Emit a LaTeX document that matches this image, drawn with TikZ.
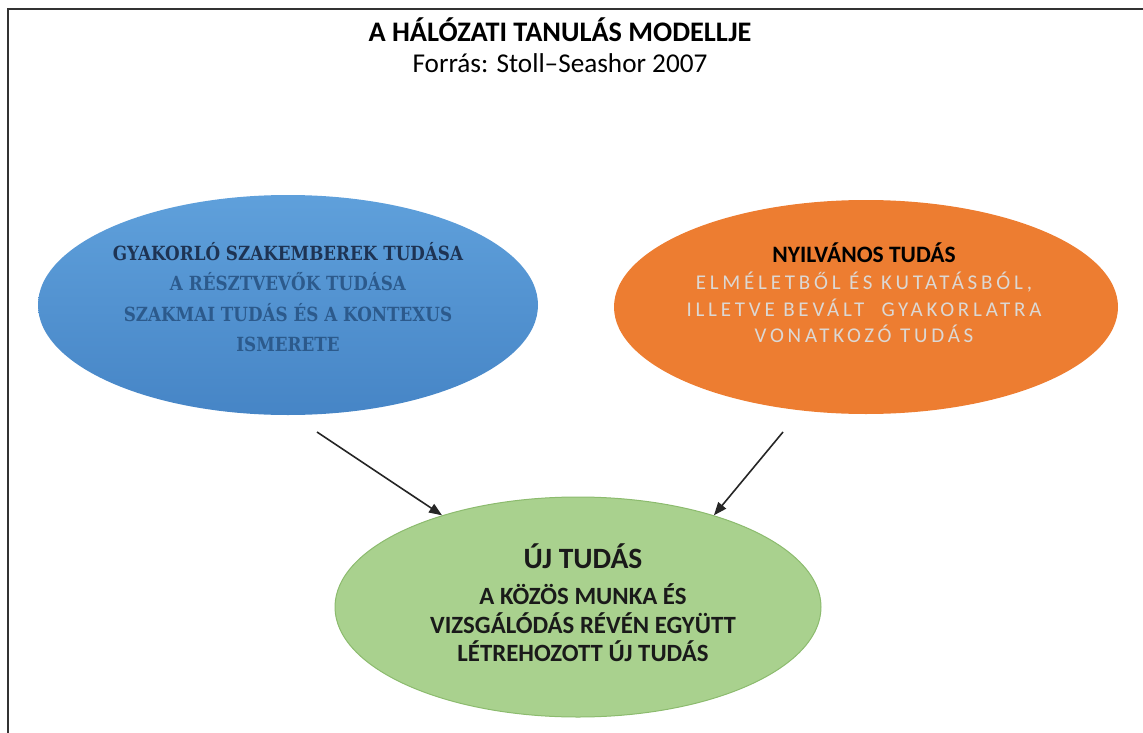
\documentclass[tikz,border=0pt]{standalone}
\usepackage{fontspec}
\setmainfont{Carlito}
\newfontfamily\slabfont[FakeStretch=0.86]{DejaVu Serif}
\newfontfamily\spacedfont[LetterSpace=18]{Carlito}
\usetikzlibrary{shapes.geometric,arrows.meta}

\definecolor{bluetop}{HTML}{5FA0DB}
\definecolor{bluebot}{HTML}{4685C6}
\definecolor{bluehead}{HTML}{1E3353}
\definecolor{bluetext}{HTML}{2C5A8C}
\definecolor{orangeoval}{HTML}{ED7D31}
\definecolor{orangetext}{HTML}{DCD8D4}
\definecolor{greenoval}{HTML}{A9D18E}
\definecolor{greenline}{HTML}{8CBB6E}
\definecolor{greentext}{HTML}{1A1A1A}

\tikzset{
  oval/.style={ellipse, inner sep=0pt},
  link/.style={-{Triangle[length=13pt,width=10pt]}, line width=1.6pt, black!85}
}

\begin{document}
\begin{tikzpicture}[x=1pt,y=-1pt]
  \useasboundingbox (0,0) rectangle (1143,733);

  \coordinate (frame-bl) at (8,733);
  \coordinate (frame-tl) at (8,9);
  \coordinate (frame-tr) at (1143,9);
  \draw[line width=1.8pt, black!80] (frame-bl) -- (frame-tl) -- (frame-tr);

  \node (title) at (560,30) {\fontsize{28.3}{32}\selectfont\bfseries A HÁLÓZATI TANULÁS MODELLJE};
  \node (source) at (560,63) {\fontsize{27.2}{32}\selectfont Forrás: Stoll--Seashor 2007};

  \node[oval, top color=bluetop, bottom color=bluebot, minimum width=500pt, minimum height=220pt] (practice) at (288,305) {};
  \node[oval, fill=orangeoval, minimum width=504pt, minimum height=214pt] (public) at (866,307) {};
  \node[oval, fill=greenoval, draw=greenline, line width=1pt, minimum width=486pt, minimum height=220pt] (uj) at (578,607) {};

  \node[align=center, font={\slabfont\bfseries\fontsize{19.5}{30.5}\selectfont}, text=bluetext] (practice-text) at (288,297)
    {{\color{bluehead}GYAKORLÓ SZAKEMBEREK TUDÁSA}\\
     A RÉSZTVEVŐK TUDÁSA\\
     SZAKMAI TUDÁS ÉS A KONTEXUS\\
     ISMERETE};

  \node[align=center, font={\spacedfont\fontsize{21}{26.7}\selectfont}, text=orangetext] (public-text) at (864,293)
    {{\normalfont\fontsize{23.5}{26.7}\selectfont\bfseries\color{black}NYILVÁNOS TUDÁS}\\
     ELMÉLETBŐL ÉS KUTATÁSBÓL,\\
     ILLETVE BEVÁLT \ GYAKORLATRA\\
     VONATKOZÓ TUDÁS};

  \node[font={\fontsize{29.5}{32}\selectfont\bfseries}, text=greentext] (uj-title) at (583,556) {ÚJ TUDÁS};
  \node[align=center, font={\fontsize{24.8}{28.5}\selectfont\bfseries}, text=greentext] (uj-text) at (583,623)
    {A KÖZÖS MUNKA ÉS\\
     VIZSGÁLÓDÁS RÉVÉN EGYÜTT\\
     LÉTREHOZOTT ÚJ TUDÁS};

  \coordinate (from-practice) at (317,432);
  \coordinate (from-public) at (783,432);
  \draw[link] (from-practice) -- (uj.146);
  \draw[link] (from-public) -- (uj.34);

\end{tikzpicture}
\end{document}
